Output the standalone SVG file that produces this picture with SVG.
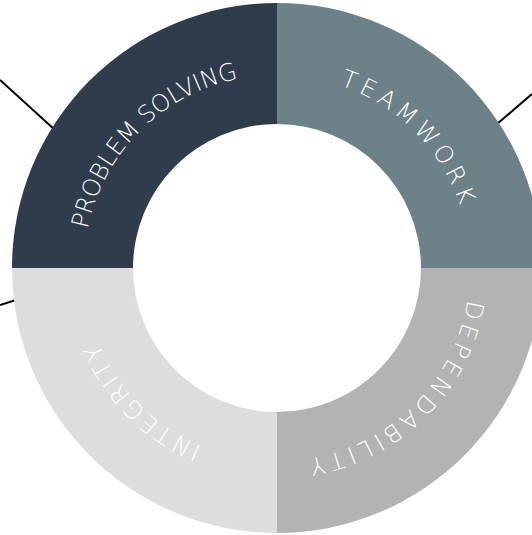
<svg xmlns="http://www.w3.org/2000/svg" xmlns:xlink="http://www.w3.org/1999/xlink" width="532" height="535" viewBox="0 0 532 535">
  <style>
    .lbl { font-family: "DejaVu Sans", "Open Sans", sans-serif; font-weight: 200; font-size: 24px; fill: #ffffff; }
    .conn { stroke: #000000; stroke-width: 2; fill: none; }
  </style>
  <defs>
    <path id="arcTL" d="M 141.24 403.76 A 192 192 0 1 1 412.76 132.24"/>
    <path id="arcTR" d="M 141.24 132.24 A 192 192 0 1 1 412.76 403.76"/>
    <path id="arcBR" d="M 412.76 132.24 A 192 192 0 1 1 141.24 403.76"/>
    <path id="arcBL" d="M 412.76 403.76 A 192 192 0 1 1 141.24 132.24"/>
  </defs>
  <rect width="532" height="535" fill="#ffffff"/>
  <g id="connectors">
    <line class="conn" x1="0" y1="80" x2="55" y2="130"/>
    <line class="conn" x1="497" y1="124" x2="532" y2="94"/>
    <line class="conn" x1="0" y1="305" x2="16" y2="300"/>
  </g>
  <g id="problem-solving">
    <path d="M 12 268 A 265 265 0 0 1 277 3 L 277 124 A 144 144 0 0 0 133 268 Z" fill="#2f3c4c"/>
    <text class="lbl"><textPath xlink:href="#arcTL" href="#arcTL" startOffset="50%" text-anchor="middle" textLength="226" lengthAdjust="spacing">PROBLEM SOLVING</textPath></text>
  </g>
  <g id="teamwork">
    <path d="M 277 3 A 265 265 0 0 1 542 268 L 421 268 A 144 144 0 0 0 277 124 Z" fill="#6c8288"/>
    <text class="lbl"><textPath xlink:href="#arcTR" href="#arcTR" startOffset="50%" text-anchor="middle" textLength="176" lengthAdjust="spacing">TEAMWORK</textPath></text>
  </g>
  <g id="dependability">
    <path d="M 542 268 A 265 265 0 0 1 277 533 L 277 412 A 144 144 0 0 0 421 268 Z" fill="#b3b3b3"/>
    <text class="lbl"><textPath xlink:href="#arcBR" href="#arcBR" startOffset="50%" text-anchor="middle" textLength="240" lengthAdjust="spacing">DEPENDABILITY</textPath></text>
  </g>
  <g id="integrity">
    <path d="M 277 533 A 265 265 0 0 1 12 268 L 133 268 A 144 144 0 0 0 277 412 Z" fill="#dddddd"/>
    <text class="lbl"><textPath xlink:href="#arcBL" href="#arcBL" startOffset="50%" text-anchor="middle" textLength="150" lengthAdjust="spacing">INTEGRITY</textPath></text>
  </g>
</svg>
